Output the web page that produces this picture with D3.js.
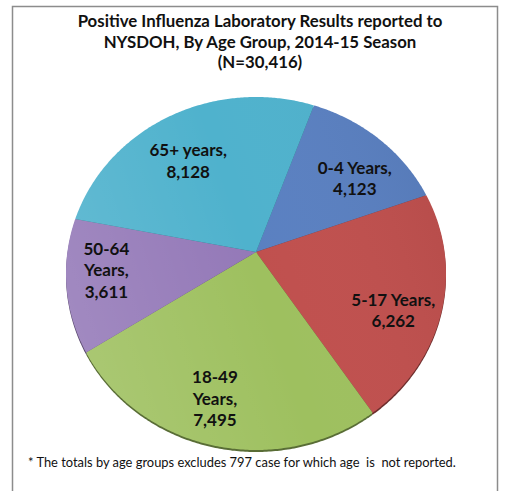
<!DOCTYPE html>
<html>
<head>
<meta charset="utf-8">
<script src="https://cdn.jsdelivr.net/npm/d3@7"></script>
<style>
  body { margin: 0; background: #fff; }
  text { font-family: Lato, "Open Sans", sans-serif; fill: #111; }
</style>
</head>
<body>
<script>
// data
let groups = ["0-4 Years", "5-17 Years", "18-49 Years", "50-64 Years", "65+ years"];
let counts = [4123, 6262, 7495, 3611, 8128];
let labelLines = [["0-4 Years,", "4,123"], ["5-17 Years,", "6,262"], ["18-49", "Years,", "7,495"],
                  ["50-64", "Years,", "3,611"], ["65+ years,", "8,128"]];
let titleLines = ["Positive Influenza Laboratory Results reported to",
                  "NYSDOH, By Age Group, 2014-15 Season", "(N=30,416)"];
let footnote = "* The totals by age groups excludes 797 case for which age  is  not reported.";
let colors = ["#5a80c1", "#c0504e", "#9ec05f", "#9479b8", "#4fb2cd"];

let width = 506, height = 491;
// tilted pie (perspective) parameters
let cx = 256, cy = 252, KR = 188.6, tilt = 0.922, persp = 0.1218;
let startDeg = 20;
// label placement inside each slice: radius fraction and angle nudge (degrees)
let labelR = [0.71, 0.77, 0.79, 0.79, 0.68];
let labelShift = [6, 6.6, 2.7, 3.2, -5];

let svg = d3.select("body").append("svg")
  .attr("width", width)
  .attr("height", height);

// frame
svg.append("rect")
  .attr("x", 12.5).attr("y", 6.5)
  .attr("width", 485).attr("height", 500)
  .attr("fill", "none")
  .attr("stroke", "#8c8c8c")
  .attr("stroke-width", 1.5);

// project a point of the unit disc (angle from top, clockwise) onto the screen
function project(a, r) {
  let U = r * Math.sin(a), V = -r * Math.cos(a);
  let w = 1 - persp * V;
  return [cx + KR * U / w, cy + KR * tilt * V / w];
}

let pie = d3.pie().sort(null)
  .startAngle(startDeg * Math.PI / 180)
  .endAngle(startDeg * Math.PI / 180 + 2 * Math.PI);
let arcs = pie(counts);

let line = d3.line();
function slicePath(d) {
  let n = Math.max(4, Math.ceil((d.endAngle - d.startAngle) / 0.01));
  let pts = [[cx, cy]];
  for (let i = 0; i <= n; i++) {
    pts.push(project(d.startAngle + (d.endAngle - d.startAngle) * i / n, 1));
  }
  return line(pts) + "Z";
}

let defs = svg.append("defs");
let grad = defs.append("linearGradient")
  .attr("id", "shade")
  .attr("gradientUnits", "userSpaceOnUse")
  .attr("x1", 60).attr("y1", 330).attr("x2", 450).attr("y2", 200);
grad.append("stop").attr("offset", "0").attr("stop-color", "#fff").attr("stop-opacity", 0.13);
grad.append("stop").attr("offset", "0.5").attr("stop-color", "#fff").attr("stop-opacity", 0);
grad.append("stop").attr("offset", "1").attr("stop-color", "#000").attr("stop-opacity", 0.05);

let pieG = svg.append("g");
// thin side wall
pieG.selectAll(".side").data(arcs).join("path")
  .attr("class", "side")
  .attr("d", slicePath)
  .attr("transform", "translate(0,2)")
  .attr("fill", (d, i) => d3.color(colors[i]).darker(1.6));
// slice tops
pieG.selectAll(".slice").data(arcs).join("path")
  .attr("class", "slice")
  .attr("d", slicePath)
  .attr("fill", (d, i) => colors[i]);
pieG.selectAll(".shade").data(arcs).join("path")
  .attr("class", "shade")
  .attr("d", slicePath)
  .attr("fill", "url(#shade)");

// labels
let lineH = 21.5;
let labels = svg.append("g").selectAll("g").data(arcs).join("g")
  .attr("transform", (d, i) => {
    let mid = (d.startAngle + d.endAngle) / 2 + labelShift[i] * Math.PI / 180;
    let p = project(mid, labelR[i]);
    return `translate(${p[0]}, ${p[1]})`;
  });
labels.each(function (d, i) {
  let ls = labelLines[i];
  d3.select(this).selectAll("text").data(ls).join("text")
    .text(t => t)
    .attr("x", 0)
    .attr("y", (t, j) => (j - (ls.length - 1) / 2) * lineH)
    .attr("dy", "0.36em")
    .attr("text-anchor", "middle")
    .attr("font-size", 17)
    .attr("font-weight", "bold");
});

// title
svg.append("g").selectAll("text").data(titleLines).join("text")
  .text(d => d)
  .attr("x", 260)
  .attr("y", (d, i) => 27 + i * 20.5)
  .attr("text-anchor", "middle")
  .attr("font-size", 16.8)
  .attr("font-weight", "bold");

// footnote
svg.append("text")
  .text(footnote)
  .attr("x", 28)
  .attr("y", 467)
  .attr("font-size", 12.9)
  .style("white-space", "pre");
</script>
</body>
</html>
